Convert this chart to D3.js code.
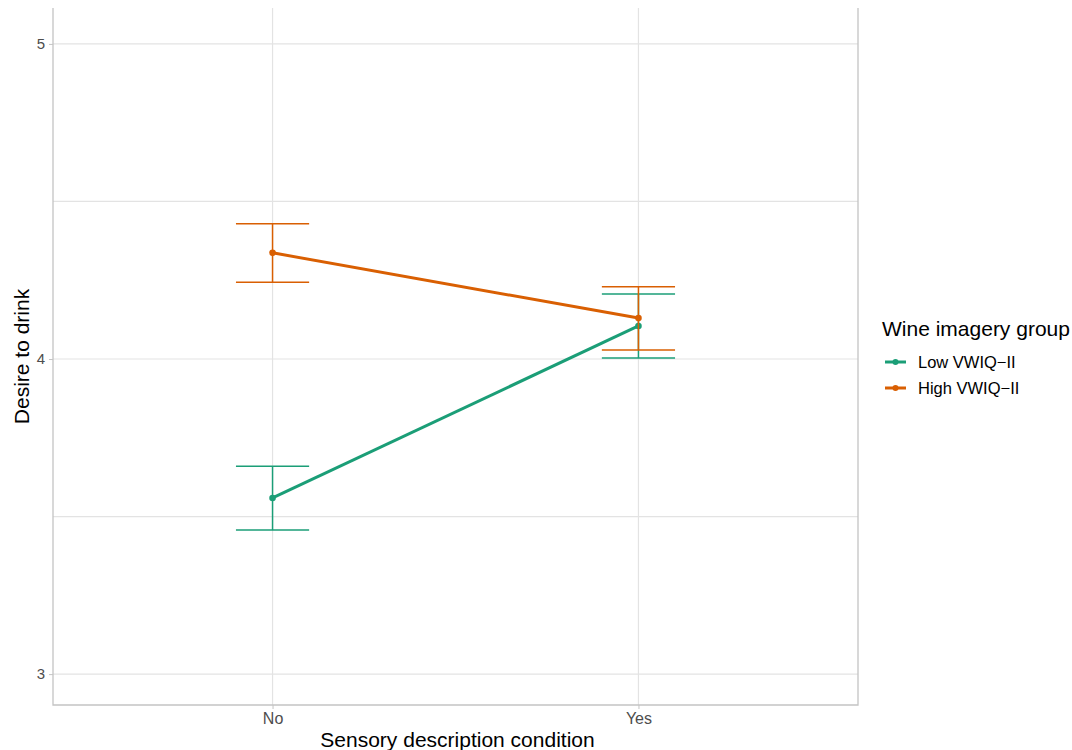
<!DOCTYPE html>
<html>
<head>
<meta charset="utf-8">
<script src="https://cdn.jsdelivr.net/npm/d3@7"></script>
<style>
  body { margin: 0; background: #fff; }
  svg { display: block; font-family: "Liberation Sans", Arial, sans-serif; }
</style>
</head>
<body>
<svg id="chart" width="1072" height="750"></svg>
<script>
// Conditions on the x axis
const conditions = ["No", "Yes"];
// Imagery groups (legend order)
const groups = ["Low VWIQ\u2212II", "High VWIQ\u2212II"];
const groupColors = ["#1b9e77", "#d95f02"];
// Mean desire to drink and error bar limits, per group, per condition
const lowMean  = [3.559, 4.105];
const lowLower = [3.457, 4.003];
const lowUpper = [3.660, 4.206];
const highMean  = [4.337, 4.130];
const highLower = [4.244, 4.029];
const highUpper = [4.429, 4.229];
// Axis ticks
const yTicks = [3, 4, 5];
const yMinor = [3.5, 4.5];

const series = [
  { name: groups[0], color: groupColors[0], mean: lowMean, lo: lowLower, hi: lowUpper },
  { name: groups[1], color: groupColors[1], mean: highMean, lo: highLower, hi: highUpper }
];

const svg = d3.select("#chart");
const panel = { left: 53, right: 858, top: 8, bottom: 705 };

// Discrete x positions with ggplot-style 0.6 expansion
const x = d3.scalePoint().domain(conditions)
  .range([panel.left, panel.right]).padding(0.6);
const y = d3.scaleLinear().domain([2.902, 5.114]).range([panel.bottom, panel.top]);

const grid = svg.append("g");
grid.selectAll("line.ymaj").data(yTicks.concat(yMinor)).join("line")
  .attr("x1", panel.left).attr("x2", panel.right)
  .attr("y1", d => y(d)).attr("y2", d => y(d))
  .attr("stroke", "#e3e3e3").attr("stroke-width", 1.2);
grid.selectAll("line.xmaj").data(conditions).join("line")
  .attr("x1", d => x(d)).attr("x2", d => x(d))
  .attr("y1", panel.top).attr("y2", panel.bottom)
  .attr("stroke", "#e3e3e3").attr("stroke-width", 1.2);

// Panel borders: left, bottom, right
svg.append("path")
  .attr("d", `M${panel.left},${panel.top}V${panel.bottom}H${panel.right}V${panel.top}`)
  .attr("fill", "none").attr("stroke", "#c4c4c4").attr("stroke-width", 1.3);

// Axes
const yAxis = d3.axisLeft(y).tickValues(yTicks).tickSize(4).tickPadding(4).tickFormat(d3.format("d"));
const gy = svg.append("g").attr("transform", `translate(${panel.left},0)`).call(yAxis);
gy.select(".domain").remove();
gy.selectAll("line").attr("stroke", "#c4c4c4");
gy.selectAll("text").attr("fill", "#4d4d4d").style("font-size", "15px");

const xAxis = d3.axisBottom(x).tickSize(4).tickPadding(4);
const gx = svg.append("g").attr("transform", `translate(0,${panel.bottom})`).call(xAxis);
gx.select(".domain").remove();
gx.selectAll("line").attr("stroke", "#c4c4c4");
gx.selectAll("text").attr("fill", "#4d4d4d").style("font-size", "16px");

// Axis titles
svg.append("text").attr("x", (panel.left + panel.right) / 2 + 2).attr("y", 747)
  .attr("text-anchor", "middle").style("font-size", "21px").attr("fill", "#000")
  .text("Sensory description condition");
svg.append("text").attr("transform", `translate(29,${(panel.top + panel.bottom) / 2}) rotate(-90)`)
  .attr("text-anchor", "middle").style("font-size", "21px").attr("fill", "#000")
  .text("Desire to drink");

// Error bars, lines and points
const capHalf = (x.step()) * 0.1;
series.forEach(s => {
  const g = svg.append("g");
  conditions.forEach((c, i) => {
    const cx = x(c);
    g.append("line").attr("x1", cx).attr("x2", cx).attr("y1", y(s.lo[i])).attr("y2", y(s.hi[i]))
      .attr("stroke", s.color).attr("stroke-width", 1.5);
    [s.lo[i], s.hi[i]].forEach(v => {
      g.append("line").attr("x1", cx - capHalf).attr("x2", cx + capHalf)
        .attr("y1", y(v)).attr("y2", y(v))
        .attr("stroke", s.color).attr("stroke-width", 1.5);
    });
  });
  const line = d3.line().x((d, i) => x(conditions[i])).y(d => y(d));
  g.append("path").attr("d", line(s.mean)).attr("fill", "none")
    .attr("stroke", s.color).attr("stroke-width", 3);
  g.selectAll("circle").data(s.mean).join("circle")
    .attr("cx", (d, i) => x(conditions[i])).attr("cy", d => y(d)).attr("r", 3.3)
    .attr("fill", s.color);
});

// Legend
const lg = svg.append("g");
lg.append("text").attr("x", 882).attr("y", 336).style("font-size", "21px").attr("fill", "#000")
  .text("Wine imagery group");
series.forEach((s, i) => {
  const yy = 362 + i * 26;
  lg.append("line").attr("x1", 885).attr("x2", 906).attr("y1", yy).attr("y2", yy)
    .attr("stroke", s.color).attr("stroke-width", 3);
  lg.append("circle").attr("cx", 895.5).attr("cy", yy).attr("r", 3).attr("fill", s.color);
  lg.append("text").attr("x", 918).attr("y", yy + 6).style("font-size", "16.5px").attr("fill", "#000")
    .text(s.name);
});
</script>
</body>
</html>
